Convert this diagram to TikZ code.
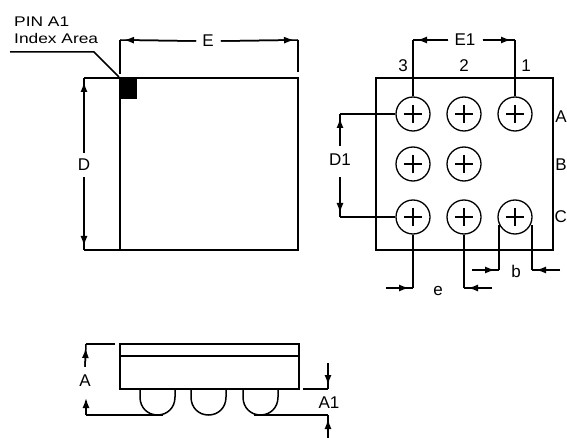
\documentclass[tikz,border=0pt]{standalone}
\usepackage{fontspec}
\setmainfont{Liberation Sans}
\newfontfamily\notefont[FakeStretch=1.24]{Liberation Sans}
\usetikzlibrary{arrows.meta}
\begin{document}
\begin{tikzpicture}[
	x=1pt, y=-1pt,
	outline/.style = {draw, line width=1.7pt},
	dim/.style = {draw, line width=1.5pt},
	dimarrow/.style = {dim, postaction={draw, shorten >=4pt, -{Latex[length=10pt,width=7pt]}}},
	ball/.style = {draw, circle, line width=1.3pt, minimum size=34pt, inner sep=0pt},
	lbl/.style = {inner sep=0pt, font=\fontsize{17}{17}\selectfont},
	note/.style = {inner sep=0pt, anchor=west, font=\notefont\fontsize{14}{14}\selectfont}]

	\useasboundingbox (0,0) rectangle (567,438);

	\def \colA {413}
	\def \colB {464}
	\def \colC {515}

	% top view
	\draw[outline] (120,78) rectangle (298,250);
	\fill (119,78) rectangle (137,99);
	\node[note] (pin) at (14,22) {PIN A1};
	\node[note] (index) at (14,38) {Index Area};
	\coordinate (leadA) at (10,52);
	\coordinate (leadB) at (94,52);
	\coordinate (leadC) at (119,77);
	\draw[dim] (leadA) -- (leadB) -- (leadC);

	\node[lbl] (E) at (208,41) {E};
	\coordinate (eL) at (120,40);
	\coordinate (eR) at (298,40);
	\coordinate (eLb) at (120,74);
	\coordinate (eRb) at (298,72);
	\draw[dim] (eLb) -- (eL);
	\draw[dim] (eRb) -- (eR);
	\draw[dimarrow] (E.west) ++(-6,0) -- (eL);
	\draw[dimarrow] (E.east) ++(7,0) -- (eR);

	\node[lbl] (D) at (84,165) {D};
	\coordinate (dT) at (84,78);
	\coordinate (dB) at (84,250);
	\coordinate (dTr) at (120,78);
	\coordinate (dBr) at (120,250);
	\draw[dim] (dTr) -- (dT);
	\draw[dim] (dBr) -- (dB);
	\draw[dimarrow] (D.north) ++(0,-6) -- (dT);
	\draw[dimarrow] (D.south) ++(0,6) -- (dB);

	% bump view
	\draw[outline] (376,78) rectangle (553,250);
	\foreach \name/\x/\y in {a3/\colA/114, a2/\colB/114, a1/\colC/114, b3/\colA/164, b2/\colB/164, c3/\colA/217, c2/\colB/217, c1/\colC/217}
	{
		\node[ball] (\name) at (\x,\y) {};
		\draw[dim] (\name.center) +(-9,0) -- +(9,0) (\name.center) +(0,-9) -- +(0,9);
	}
	\node[lbl] (n3) at (403,66) {3};
	\node[lbl] (n2) at (464,66) {2};
	\node[lbl] (n1) at (526,66) {1};
	\node[lbl,anchor=east] (rowA) at (567,117) {A};
	\node[lbl,anchor=east] (rowB) at (567,165) {B};
	\node[lbl,anchor=east] (rowC) at (567,217) {C};

	\node[lbl] (E1) at (465,40) {E1};
	\coordinate (eaL) at (413,40);
	\coordinate (eaR) at (515,40);
	\draw[dim] (a3.north) -- (eaL);
	\draw[dim] (a1.north) -- (eaR);
	\draw[dimarrow] (E1.west) ++(-6,0) -- (eaL);
	\draw[dimarrow] (E1.east) ++(7,0) -- (eaR);

	\node[lbl] (D1) at (340,160) {D1};
	\coordinate (daT) at (340,114);
	\coordinate (daB) at (340,217);
	\draw[dim] (a3.west) -- (daT);
	\draw[dim] (c3.west) -- (daB);
	\draw[dimarrow] (D1.north) ++(0,-8) -- (daT);
	\draw[dimarrow] (D1.south) ++(0,11) -- (daB);

	\node[lbl] (e) at (438,291) {e};
	\coordinate (pL) at (413,288);
	\coordinate (pR) at (464,288);
	\coordinate (pLo) at (386,288);
	\coordinate (pRo) at (492,288);
	\draw[dim] (c3.south) -- (pL);
	\draw[dim] (c2.south) -- (pR);
	\draw[dimarrow] (pLo) -- (pL);
	\draw[dimarrow] (pRo) -- (pR);

	\node[lbl] (b) at (516,271) {b};
	\coordinate (bLt) at (499,225);
	\coordinate (bRt) at (532,225);
	\coordinate (bL) at (499,270);
	\coordinate (bR) at (532,270);
	\coordinate (bLo) at (472,270);
	\coordinate (bRo) at (560,270);
	\draw[dim] (bLt) -- (bL);
	\draw[dim] (bRt) -- (bR);
	\draw[dimarrow] (bLo) -- (bL);
	\draw[dimarrow] (bRo) -- (bR);

	% side view
	\foreach \x in {140,191,243}
	{
		\draw[dim] (\x,389) -- (\x,397) .. controls (\x,408) and (\x+8,415) .. (\x+17.5,415) .. controls (\x+27,415) and (\x+35,408) .. (\x+35,397) -- (\x+35,389);
	}
	\draw[outline,fill=white] (120,344) rectangle (299,389);
	\draw[outline] (120,356) -- (299,356);

	\node[lbl] (A) at (85,381) {A};
	\coordinate (hT) at (86,344);
	\coordinate (hB) at (86,415);
	\coordinate (hBt) at (86,398);
	\coordinate (hTr) at (115,344);
	\coordinate (hBr) at (163,415);
	\draw[dim] (hTr) -- (hT);
	\draw[dim] (hBr) -- (hB);
	\draw[dimarrow] (A.north) ++(0,-8) -- (hT);
	\draw[dim,-{Latex[length=10pt,width=7pt]}] (hB) -- (hBt);

	\node[lbl] (A1) at (329,403) {A1};
	\coordinate (aaT) at (328,389);
	\coordinate (aaB) at (328,415);
	\coordinate (aaTl) at (303,389);
	\coordinate (aaBl) at (254,415);
	\coordinate (aaTo) at (328,363);
	\coordinate (aaBo) at (328,438);
	\draw[dim] (aaTl) -- (aaT);
	\draw[dim] (aaBl) -- (aaB);
	\draw[dimarrow] (aaTo) -- (aaT);
	\draw[dimarrow] (aaBo) -- (aaB);
\end{tikzpicture}
\end{document}
